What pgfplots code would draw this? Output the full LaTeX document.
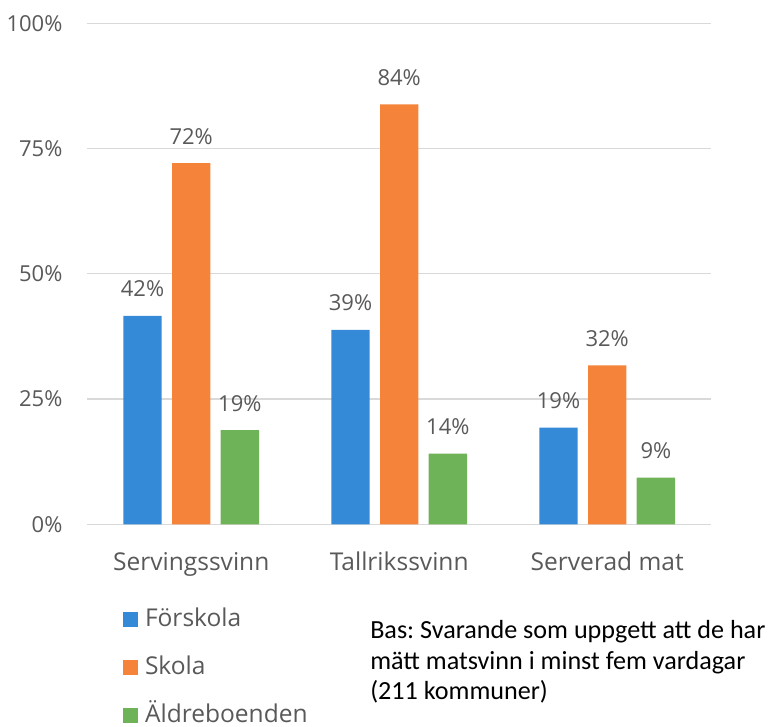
\documentclass[border=0pt]{standalone}
\usepackage{fontspec}
\setmainfont{Open Sans}
\newfontfamily\calibri{Carlito}
\usepackage{pgfplots}
\pgfplotsset{compat=1.18}
\frenchspacing

\definecolor{cblue}{HTML}{348AD6}
\definecolor{corange}{HTML}{F5843A}
\definecolor{cgreen}{HTML}{6FB358}
\definecolor{txt}{HTML}{595959}
\definecolor{gridc}{HTML}{D9D9D9}

\pgfplotsset{
  sqlegend/.style={legend image code/.code={\fill[##1] (0pt,0pt) rectangle (11.25pt,11.25pt);}},
}

\begin{document}
\begin{tikzpicture}
\useasboundingbox (0,0) rectangle (582.75pt,545.25pt);
\begin{axis}[
  at={(65.4pt,152.025pt)}, anchor=south west,
  scale only axis, width=468pt, height=375.75pt, clip=false,
  ybar=7.8pt, bar width=28.7pt,
  xmin=-0.5, xmax=2.5, ymin=0, ymax=100,
  xtick={0,1,2}, xticklabels={Servingssvinn,Tallrikssvinn,Serverad mat},
  ytick={0,25,50,75,100}, yticklabel={\pgfmathprintnumber{\tick}\%},
  axis line style={draw=none}, major tick length=0pt,
  ymajorgrids, grid style={gridc, line width=0.9pt},
  /pgf/number format/assume math mode=true,
  xticklabel style={font=\fontsize{18.4}{22}\selectfont, text=txt, anchor=base, inner sep=0pt, yshift=-34.5pt},
  yticklabel style={font=\fontsize{16.5}{20}\selectfont, text=txt, anchor=east, inner sep=0pt, xshift=-18.4pt},
  nodes near coords={\pgfmathprintnumber[fixed,precision=0]{\pgfplotspointmeta}\%},
  nodes near coords style={font=\fontsize{16.5}{20}\selectfont, text=txt, anchor=base, inner sep=0pt, yshift=14.25pt},
  legend cell align=left,
  legend style={at={(0.0574,-0.1685)}, anchor=north west, draw=none, fill=none,
    inner sep=0pt, outer sep=0pt, row sep=18.5pt,
    font=\fontsize{18.4}{22}\selectfont, text=txt,
    cells={anchor=base west},
    nodes={inner sep=0pt, text height=13.5pt, text depth=4pt},
    /tikz/every odd column/.style={column sep=5.25pt}},
]
\addplot[fill=cblue, draw=none, sqlegend] coordinates {(0,41.6) (1,38.8) (2,19.3)};
\addplot[fill=corange, draw=none, sqlegend] coordinates {(0,72.1) (1,83.8) (2,31.7)};
\addplot[fill=cgreen, draw=none, sqlegend] coordinates {(0,18.8) (1,14.1) (2,9.3)};
\legend{Förskola, Skola, Äldreboenden}
\node[anchor=base west, align=left, inner sep=0pt, text=black,
  font=\calibri\fontsize{19.6}{22.9}\selectfont]
  at (axis description cs:0.4532,-0.3507)
  {Bas: Svarande som uppgett att de har\\mätt matsvinn i minst fem vardagar\\(211 kommuner)};
\end{axis}
\end{tikzpicture}
\end{document}
